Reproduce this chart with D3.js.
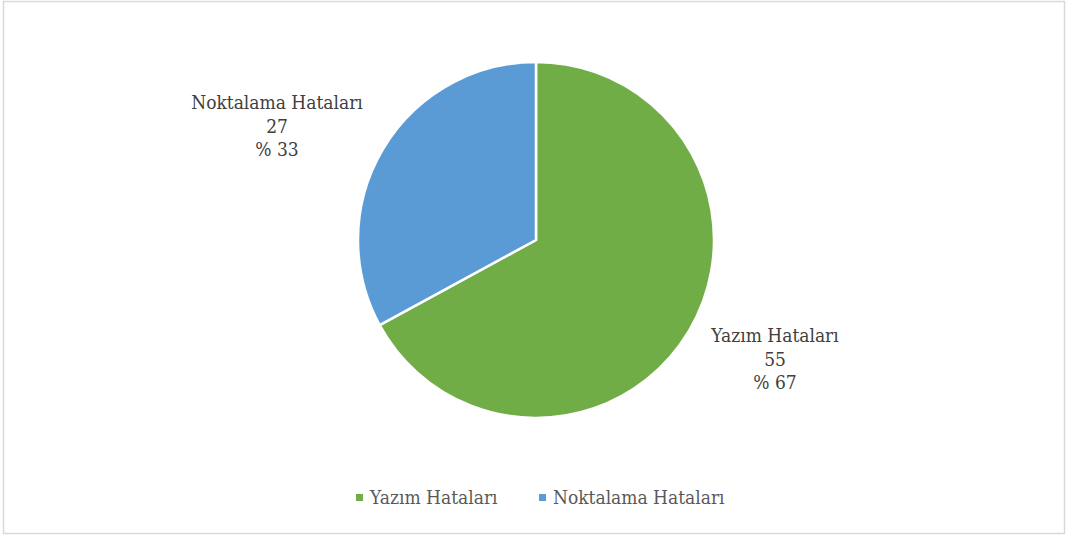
<!DOCTYPE html>
<html><head><meta charset="utf-8">
<script src="https://cdn.jsdelivr.net/npm/d3@7"></script>
<style>body{margin:0;background:#fff}svg{display:block}text{font-family:'DejaVu Serif Condensed','DejaVu Serif',serif;font-stretch:condensed}</style>
</head><body>
<script>
const categories = ["Yazım Hataları", "Noktalama Hataları"];
const values = [55, 27];
const percents = [67, 33];
const colors = ["#70AD47", "#5B9BD5"];

const W = 1066, H = 536;
const svg = d3.select("body").append("svg").attr("width", W).attr("height", H);
svg.append("rect").attr("x", 3.5).attr("y", 1.5).attr("width", 1061).attr("height", 532)
  .attr("fill", "#fff").attr("stroke", "#d9d9d9").attr("stroke-width", 1.5);

const cx = 536, cy = 240, r = 178;
const pie = d3.pie().sort(null).value(d => d)(values);
const arc = d3.arc().innerRadius(0).outerRadius(r);
const g = svg.append("g").attr("transform", `translate(${cx},${cy})`);
g.selectAll("path").data(pie).join("path")
  .attr("d", arc).attr("fill", (d, i) => colors[i])
  .attr("stroke", "#fff").attr("stroke-width", 2.5).attr("stroke-linejoin", "round");

const labelPos = [[775, 342], [277, 109]];
pie.forEach((d, i) => {
  const t = svg.append("text").attr("text-anchor", "middle")
    .attr("font-size", 19).attr("fill", "#404040");
  const lines = [categories[i], String(values[i]), "% " + percents[i]];
  lines.forEach((s, k) => {
    t.append("tspan").attr("x", labelPos[i][0]).attr("y", labelPos[i][1] + k * 23.5).text(s);
  });
});

const legend = svg.append("g");
const legX = [356, 539];
categories.forEach((c, i) => {
  legend.append("rect").attr("x", legX[i]).attr("y", 494).attr("width", 7).attr("height", 7).attr("fill", colors[i]);
  legend.append("text").attr("x", legX[i] + 14).attr("y", 504)
    .attr("font-size", 19).attr("fill", "#595959").text(c);
});
</script>
</body></html>
